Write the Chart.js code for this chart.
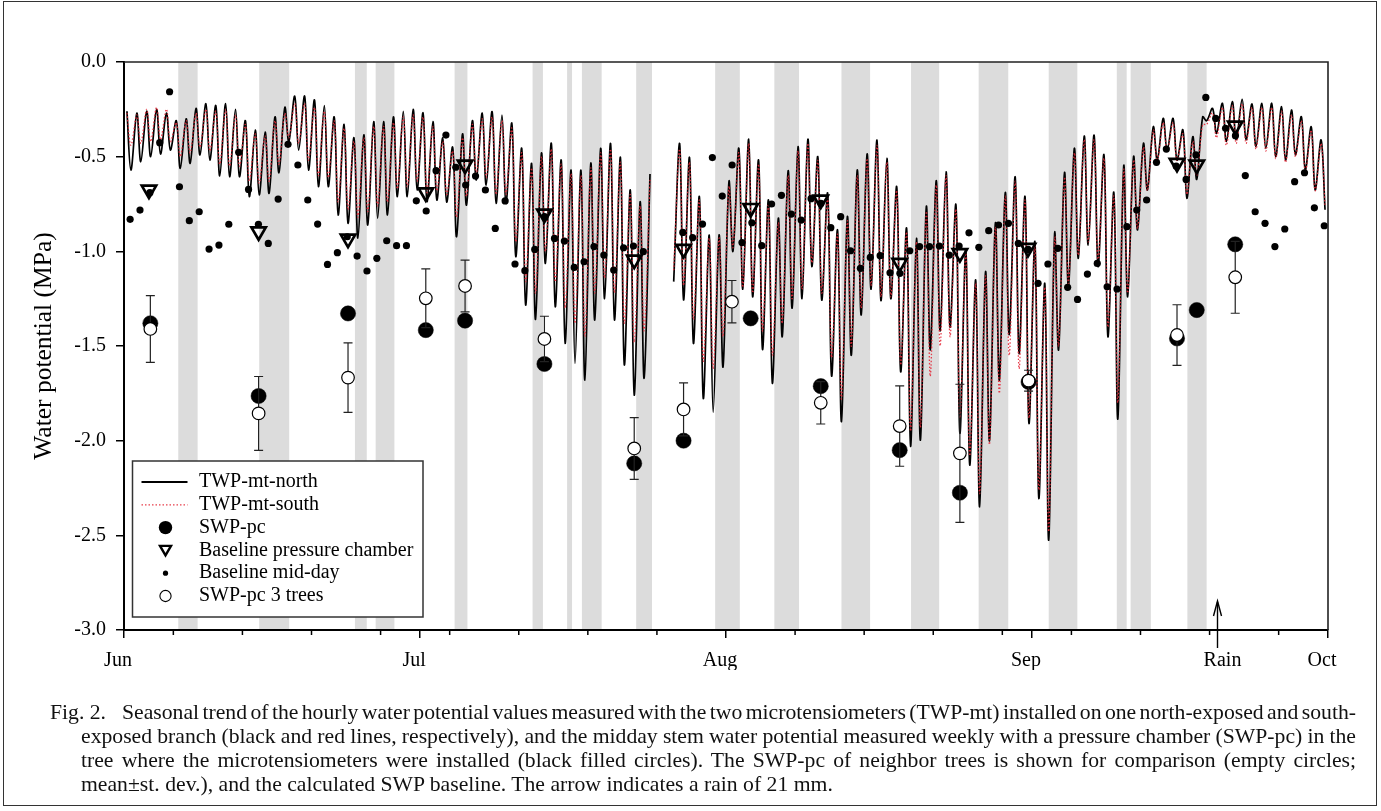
<!DOCTYPE html>
<html>
<head>
<meta charset="utf-8">
<script src="https://cdn.jsdelivr.net/npm/chart.js@4.4.1/dist/chart.umd.min.js"></script>
<style>
html,body{margin:0;padding:0;background:#fff;}
#wrap{position:relative;width:1381px;height:811px;overflow:hidden;background:#fff;}
#c{position:absolute;left:0;top:0;}
#frame{position:absolute;left:3px;top:1px;width:1374px;height:805px;border:1.5px solid #333;box-sizing:border-box;pointer-events:none;}
.cap{position:absolute;font-family:"Liberation Serif","Times New Roman",serif;font-size:21.7px;line-height:24px;height:24px;color:#111;overflow:hidden;}
.j{text-align:justify;text-align-last:justify;word-spacing:-3.5px;}
</style>
</head>
<body>
<div id="wrap">
<canvas id="c" width="1381" height="811" style="width:1381px;height:811px"></canvas>
<div id="frame"></div>
<div class="cap" style="left:50px;top:700px;width:70px;">Fig. 2.</div>
<div class="cap j" style="left:122px;top:700px;width:1234px;word-spacing:-2.5px;">Seasonal trend of the hourly water potential values measured with the two microtensiometers (TWP-mt) installed on one north-exposed and south-</div>
<div class="cap j" style="left:81px;top:724px;width:1275px;">exposed branch (black and red lines, respectively), and the midday stem water potential measured weekly with a pressure chamber (SWP-pc) in the</div>
<div class="cap j" style="left:81px;top:748px;width:1275px;">tree where the microtensiometers were installed (black filled circles). The SWP-pc of neighbor trees is shown for comparison (empty circles;</div>
<div class="cap" style="left:81px;top:772px;width:1275px;">mean±st. dev.), and the calculated SWP baseline. The arrow indicates a rain of 21 mm.</div>
</div>
<script>
// ---------------- data (days counted from 1 June) ----------------
const months = ['Jun','Jul','Aug','Sep','Oct'];
const monthDays = [0,30,61,92,122];
const weekTickDays = [5,12,19,26,33,40,47,54,61,68,75,82,89,96,103,110,117];

// daily predawn maximum / midday minimum of the hourly TWP traces (MPa)
const northMax = [
 -0.26,-0.27,-0.26,-0.25,-0.27,-0.31,-0.30,-0.245,-0.22,-0.23,
 -0.22,-0.25,-0.31,-0.36,-0.37,-0.29,-0.24,-0.18,-0.18,-0.20,
 -0.23,-0.29,-0.33,-0.40,-0.385,-0.315,-0.315,-0.29,-0.26,-0.25,
 -0.268,-0.315,-0.40,-0.45,-0.38,-0.31,-0.27,-0.262,-0.28,-0.324,
 -0.456,-0.535,-0.482,-0.43,-0.518,-0.571,-0.571,-0.535,-0.456,-0.43,
 -0.504,-0.676,-0.738,-0.592,null,null,-0.43,-0.504,-0.711,-0.914,
 -0.914,-0.632,-0.456,-0.408,-0.518,-0.729,-0.826,-0.574,-0.447,-0.408,
 -0.50,-0.694,-0.887,-0.817,-0.571,-0.486,-0.412,-0.509,-0.659,-0.878,
 -0.931,-0.764,-0.627,-0.58,-0.755,-0.993,-1.152,-1.108,-0.85,-0.69,
 -0.606,-0.711,-0.949,-1.169,-0.905,-0.585,-0.456,-0.391,-0.386,-0.491,
 -0.69,-0.55,-0.50,-0.43,-0.342,-0.298,-0.298,-0.359,-0.394,-0.29,
 -0.245,-0.218,-0.209,-0.197,-0.222,-0.218,-0.218,-0.236,-0.254,-0.289,
 -0.342,-0.412];
const northMin = [
 -0.571,-0.527,-0.50,-0.486,-0.465,-0.562,-0.535,-0.491,-0.518,-0.602,
 -0.606,-0.606,-0.711,-0.702,-0.694,-0.585,-0.42,-0.465,-0.571,-0.658,
 -0.658,-0.808,-0.852,-0.93,-0.861,-0.826,-0.808,-0.711,-0.711,-0.676,
 -0.738,-0.729,-0.74,-0.923,-0.756,-0.623,-0.65,-0.747,-0.747,-1.028,
 -1.284,-1.36,-1.064,-1.293,-1.486,-1.592,-1.68,-1.363,-1.25,-1.363,
 -1.60,-1.76,-1.67,null,null,-1.16,-1.257,-1.486,-1.777,-1.85,
 -1.61,-1.0,-1.2,-1.24,-1.518,-1.697,-1.45,-1.30,-1.25,-1.08,
 -1.257,-1.659,-1.90,-1.548,-1.336,-1.20,-1.26,-1.25,-1.636,-2.03,
 -1.997,-1.52,-1.42,-1.40,-1.96,-2.129,-2.349,-2.0,-1.68,-1.44,
 -1.54,-1.909,-2.305,-2.525,-1.52,-1.187,-1.037,-0.967,-1.081,-1.451,
 -1.886,-1.24,-0.887,-0.676,-0.518,-0.465,-0.518,-0.72,-0.62,-0.31,
 -0.377,-0.42,-0.41,-0.41,-0.447,-0.456,-0.50,-0.518,-0.49,-0.57,
 -0.676,-0.78];
const southMax = [
 -0.27,-0.28,-0.25,-0.24,-0.25,-0.32,-0.31,-0.27,-0.25,-0.26,
 -0.25,-0.28,-0.33,-0.38,-0.39,-0.31,-0.27,-0.22,-0.22,-0.24,
 -0.26,-0.31,-0.35,-0.42,-0.40,-0.34,-0.34,-0.32,-0.29,-0.28,
 -0.29,-0.34,-0.42,-0.47,-0.40,-0.33,-0.30,-0.29,-0.31,-0.35,
 -0.48,-0.56,-0.50,-0.46,-0.54,-0.59,-0.60,-0.56,-0.48,-0.46,
 -0.53,-0.70,-0.76,-0.62,null,null,-0.46,-0.53,-0.73,-0.93,
 -0.93,-0.66,-0.48,-0.43,-0.54,-0.75,-0.85,-0.60,-0.47,-0.43,
 -0.52,-0.72,-0.91,-0.84,-0.60,-0.51,-0.44,-0.53,-0.68,-0.90,
 -0.95,-0.79,-0.65,-0.60,-0.78,-1.01,-1.17,-1.13,-0.87,-0.71,
 -0.63,-0.73,-0.97,-1.19,-0.93,-0.61,-0.48,-0.41,-0.41,-0.51,
 -0.71,-0.57,-0.52,-0.45,-0.36,-0.32,-0.32,-0.38,-0.42,-0.33,
 -0.27,-0.24,-0.23,-0.22,-0.24,-0.24,-0.24,-0.26,-0.28,-0.31,
 -0.36,-0.43];
const southMin = [
 -0.44,-0.43,-0.42,-0.41,-0.42,-0.50,-0.48,-0.45,-0.47,-0.54,
 -0.55,-0.55,-0.63,-0.64,-0.63,-0.54,-0.40,-0.43,-0.52,-0.60,
 -0.61,-0.74,-0.78,-0.82,-0.79,-0.76,-0.74,-0.67,-0.66,-0.63,
 -0.69,-0.68,-0.70,-0.82,-0.71,-0.59,-0.61,-0.70,-0.70,-0.95,
 -1.16,-1.22,-1.00,-1.16,-1.30,-1.38,-1.45,-1.22,-1.14,-1.22,
 -1.38,-1.48,-1.42,null,null,-1.10,-1.18,-1.36,-1.58,-1.62,
 -1.45,-0.98,-1.19,-1.22,-1.42,-1.55,-1.38,-1.25,-1.20,-1.06,
 -1.22,-1.56,-1.78,-1.50,-1.30,-1.18,-1.24,-1.24,-1.60,-1.95,
 -1.93,-1.66,-1.50,-1.45,-1.88,-2.08,-2.28,-2.02,-1.75,-1.55,
 -1.62,-1.88,-2.26,-2.48,-1.50,-1.17,-1.02,-0.95,-1.06,-1.40,
 -1.80,-1.22,-0.88,-0.68,-0.52,-0.47,-0.52,-0.70,-0.60,-0.33,
 -0.40,-0.44,-0.43,-0.43,-0.46,-0.47,-0.51,-0.53,-0.50,-0.58,
 -0.68,-0.76];

// Baseline mid-day (one value per day)
const middayVals = [
 -0.831,-0.782,-0.69,-0.426,-0.157,-0.659,-0.838,-0.791,-0.988,-0.967,
 -0.857,-0.477,-0.673,-0.857,-0.958,-0.724,-0.435,-0.544,-0.729,-0.856,
 -1.069,-1.007,-0.923,-1.025,-1.104,-1.037,-0.944,-0.970,-0.970,-0.733,
 -0.787,-0.574,-0.386,-0.556,-0.65,-0.602,-0.676,-0.879,-0.734,-1.067,
 -1.102,-0.990,-0.817,-0.932,-0.946,-1.085,-1.055,-0.975,-1.02,-1.099,
 -0.981,-0.972,-1.002,null,null,null,-0.9,-0.928,-0.856,-0.505,
 -0.708,-0.544,-0.954,-0.849,-0.970,-0.750,-0.704,-0.803,-0.835,-0.722,
 -0.747,-0.875,-0.817,-0.997,-1.09,-1.032,-1.023,-1.113,-1.116,-0.997,
 -0.975,-0.975,-0.972,-1.02,-0.972,-0.902,-0.979,-0.891,-0.861,-0.852,
 -0.958,-0.99,-1.169,-1.067,-0.984,-1.19,-1.254,-1.12,-1.064,-1.187,
 -1.199,-0.87,-0.782,-0.729,-0.53,-0.46,-0.55,-0.62,-0.491,-0.187,
 -0.298,-0.35,-0.389,-0.6,-0.791,-0.852,-0.975,-0.882,-0.632,-0.585,
 -0.77,-0.865];

// SWP-pc (tree with microtensiometers)
const swpDays = [2.67,13.64,22.7,30.58,34.56,42.6,51.7,56.7,63.5,70.6,78.6,84.7,91.66,106.7,108.7,112.6];
const swpVals = [-1.38,-1.764,-1.328,-1.416,-1.366,-1.595,-2.12,-2.0,-1.354,-1.712,-2.05,-2.275,-1.69,-1.46,-1.31,-0.963];
// Baseline pressure chamber
const bpcDays = [2.53,13.64,22.7,30.58,34.56,42.6,51.7,56.7,63.5,70.6,78.6,84.7,91.6,106.7,108.7,112.6];
const bpcVals = [-0.675,-0.895,-0.934,-0.689,-0.543,-0.802,-1.045,-0.988,-0.772,-0.728,-1.062,-1.01,-0.983,-0.534,-0.543,-0.337];
// SWP-pc of 3 neighbour trees (mean, sd)
const swp3Days = [2.67,13.64,22.7,30.58,34.56,42.6,51.7,56.7,61.6,70.6,78.6,84.7,91.66,106.7,112.6];
const swp3Vals = [-1.41,-1.856,-1.667,-1.248,-1.183,-1.463,-2.041,-1.835,-1.266,-1.80,-1.923,-2.067,-1.683,-1.442,-1.137];
const swp3Sd   = [0.176,0.195,0.184,0.155,0.137,0.12,0.163,0.14,0.112,0.112,0.212,0.365,0.055,0.16,0.19];

// shaded (cloudy) periods, [start, end] in days
const cloudBands = [[5.5,7.46],[13.7,16.74],[23.4,24.6],[25.5,27.4],[33.5,34.8],[41.4,42.45],[44.9,45.4],[46.4,48.4],[51.9,53.5],[59.9,62.4],[65.9,68.4],[72.7,75.6],[79.75,82.6],[86.6,89.6],[93.7,96.6],[100.6,101.6],[102.0,104.05],[107.75,109.7]];
const rainDay = 110.75;

const legendLabels = ['TWP-mt-north','TWP-mt-south','SWP-pc','Baseline pressure chamber','Baseline mid-day','SWP-pc 3 trees'];

// ---------------- build ----------------
const PREDAWN = 0.3, MIDDAY = 0.7, NOON = 0.62;
function dailySeries(maxArr, minArr){
  const pts = [];
  maxArr.forEach((v,d)=>{ pts.push({x:d+PREDAWN, y:v}); pts.push({x:d+MIDDAY, y:minArr[d]}); });
  return pts;
}
const zip = (xs,ys)=>xs.map((x,i)=>({x:x,y:ys[i]}));
const middayPts = [];
middayVals.forEach((v,d)=>{ if(v!==null) middayPts.push({x:d+NOON,y:v}); });

const FONT = '"Liberation Serif","Times New Roman",serif';
const RED = 'rgba(228,40,55,0.9)';

const figPlugin = {
  id:'figPlugin',
  beforeDatasetsDraw(chart){
    const {ctx, chartArea:a, scales:{x}} = chart;
    ctx.save();
    ctx.fillStyle = '#dcdcdc';
    cloudBands.forEach(([s,e])=>{
      const x1 = x.getPixelForValue(s), x2 = x.getPixelForValue(e);
      ctx.fillRect(x1, a.top, x2-x1, a.bottom-a.top-1);
    });
    ctx.restore();
  },
  beforeDatasetDraw(chart, args){
    if (chart.data.datasets[args.index].label !== 'SWP-pc 3 trees') return;
    const {ctx, scales:{x,y}} = chart;
    ctx.save();
    ctx.strokeStyle = '#222'; ctx.lineWidth = 1.2;
    swp3Days.forEach((d,i)=>{
      const px = x.getPixelForValue(d);
      const y1 = y.getPixelForValue(swp3Vals[i]+swp3Sd[i]);
      const y2 = y.getPixelForValue(swp3Vals[i]-swp3Sd[i]);
      ctx.beginPath();
      ctx.moveTo(px,y1); ctx.lineTo(px,y2);
      ctx.moveTo(px-4.5,y1); ctx.lineTo(px+4.5,y1);
      ctx.moveTo(px-4.5,y2); ctx.lineTo(px+4.5,y2);
      ctx.stroke();
    });
    ctx.restore();
  },
  afterDraw(chart){
    const {ctx, chartArea:a, scales:{x}} = chart;
    ctx.save();
    // frame top / right
    ctx.strokeStyle = '#222'; ctx.lineWidth = 1.6;
    ctx.beginPath(); ctx.moveTo(a.left, a.top); ctx.lineTo(a.right, a.top); ctx.lineTo(a.right, a.bottom); ctx.stroke();
    // minor weekly ticks
    ctx.strokeStyle = '#000'; ctx.lineWidth = 1.5;
    weekTickDays.forEach(d=>{
      if (monthDays.includes(d)) return;
      const px = x.getPixelForValue(d);
      ctx.beginPath(); ctx.moveTo(px, a.bottom); ctx.lineTo(px, a.bottom+5); ctx.stroke();
    });
    // rain arrow
    const rx = Math.round(x.getPixelForValue(rainDay))+0.5;
    ctx.strokeStyle = '#000'; ctx.lineWidth = 1.4;
    ctx.beginPath(); ctx.moveTo(rx, a.bottom+18); ctx.lineTo(rx, a.bottom-28); ctx.stroke();
    ctx.beginPath(); ctx.moveTo(rx-4, a.bottom-14); ctx.lineTo(rx, a.bottom-29); ctx.lineTo(rx+4, a.bottom-14); ctx.stroke();
    ctx.fillStyle = '#000'; ctx.font = '20px '+FONT; ctx.textAlign='center'; ctx.textBaseline='middle';
    ctx.fillText('Rain', rx+5, a.bottom+31);
    // legend
    const L = a.left+8.5, T = a.bottom-169, W = 290.5, H = 156;
    ctx.fillStyle = '#fff'; ctx.fillRect(L, T, W, H);
    ctx.strokeStyle = '#333'; ctx.lineWidth = 1.5; ctx.strokeRect(L, T, W, H);
    const sx = L+33, tx = L+66.5;
    const rowY = i => T+21+i*22.8;
    ctx.fillStyle = '#000'; ctx.textAlign='left'; ctx.textBaseline='middle'; ctx.font = '20px '+FONT;
    legendLabels.forEach((t,i)=>ctx.fillText(t, tx, rowY(i)));
    // symbols
    ctx.strokeStyle = '#000'; ctx.lineWidth = 1.8;
    ctx.beginPath(); ctx.moveTo(L+9, rowY(0)); ctx.lineTo(L+55, rowY(0)); ctx.stroke();
    ctx.strokeStyle = RED; ctx.lineWidth = 1.3; ctx.setLineDash([1.5,2]);
    ctx.beginPath(); ctx.moveTo(L+9, rowY(1)); ctx.lineTo(L+55, rowY(1)); ctx.stroke();
    ctx.setLineDash([]);
    ctx.fillStyle = '#000';
    ctx.beginPath(); ctx.arc(sx, rowY(2), 6.7, 0, Math.PI*2); ctx.fill();
    ctx.strokeStyle = '#000'; ctx.lineWidth = 2.4;
    const ty = rowY(3)-1;
    ctx.beginPath(); ctx.moveTo(sx-5.5, ty-3.5); ctx.lineTo(sx+5.5, ty-3.5); ctx.lineTo(sx, ty+6); ctx.closePath(); ctx.stroke();
    ctx.beginPath(); ctx.arc(sx, rowY(4), 2.6, 0, Math.PI*2); ctx.fill();
    ctx.fillStyle = '#fff'; ctx.lineWidth = 1.1;
    ctx.beginPath(); ctx.arc(sx, rowY(5), 5.6, 0, Math.PI*2); ctx.fill(); ctx.stroke();
    ctx.restore();
  }
};

new Chart(document.getElementById('c'), {
  type:'scatter',
  data:{ datasets:[
    {label:'TWP-mt-north', data:dailySeries(northMax,northMin), showLine:true, borderColor:'#000', borderWidth:1.7,
     pointRadius:0, tension:0.35, spanGaps:false, order:7},
    {label:'TWP-mt-south', data:dailySeries(southMax,southMin), showLine:true, borderColor:RED, borderWidth:1.3,
     borderDash:[1.5,2], pointRadius:0, tension:0.35, spanGaps:false, order:6},
    {label:'SWP-pc', data:zip(swpDays,swpVals), pointRadius:7.6, pointBackgroundColor:'#000', pointBorderColor:'#000', pointBorderWidth:0.5, order:5},
    {label:'Baseline pressure chamber', data:zip(bpcDays,bpcVals), pointStyle:'triangle', pointRotation:180, pointRadius:8.3,
     pointBorderWidth:2.7, pointBorderColor:'#000', pointBackgroundColor:'rgba(0,0,0,0)', order:4},
    {label:'Baseline mid-day', data:middayPts, pointRadius:3.6, pointBackgroundColor:'#000', pointBorderColor:'#000', pointBorderWidth:0, order:3},
    {label:'SWP-pc 3 trees', data:zip(swp3Days,swp3Vals), pointRadius:6.3, pointBackgroundColor:'#fff', pointBorderColor:'#000', pointBorderWidth:1.2, order:1}
  ]},
  options:{
    responsive:false, animation:false, devicePixelRatio:1, events:[],
    layout:{padding:{top:62,right:53,bottom:141,left:0}},
    plugins:{legend:{display:false}, tooltip:{enabled:false}},
    scales:{
      x:{type:'linear', min:0, max:122, position:'bottom',
        afterBuildTicks: ax=>{ ax.ticks = monthDays.map(v=>({value:v})); },
        afterFit: ax=>{ ax.height = 40; },
        ticks:{autoSkip:false, maxRotation:0, minRotation:0, padding:11, labelOffset:-6, color:'#000',
          font:{family:FONT, size:20}, callback:(v,i)=>months[i]},
        grid:{drawOnChartArea:false, drawTicks:true, tickLength:8, color:'#000', lineWidth:1.5},
        border:{display:true, color:'#000', width:2}
      },
      y:{type:'linear', min:-3, max:0,
        afterFit: ax=>{ ax.width = 124; },
        ticks:{stepSize:0.5, padding:10, color:'#000', font:{family:FONT, size:20}, callback:v=>Number(v).toFixed(1)},
        grid:{drawOnChartArea:false, drawTicks:true, tickLength:8, color:'#000', lineWidth:1.5},
        border:{display:true, color:'#000', width:2},
        title:{display:true, text:'Water potential (MPa)', color:'#000', font:{family:FONT, size:25.5}, padding:{top:29,bottom:0}}
      }
    }
  },
  plugins:[figPlugin]
});
</script>
</body>
</html>
